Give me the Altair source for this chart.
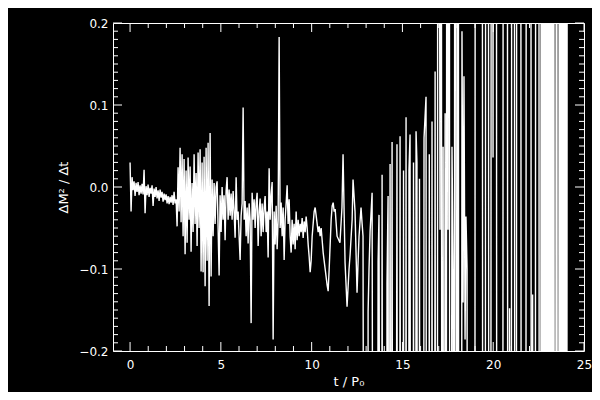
import altair as alt
import pandas as pd

# ---------------- data ----------------
# Early part of the record: evenly sampled, values in units of 1e-3
NOISE_T0 = 0.0
NOISE_DT = 0.0551
NOISE_A = [30, -30, 12, -4, 7, -11, 5, -6, 6, -10, 2, -8, 4, -9, 21, -32, 1, -10, 3, -12,
           -1, -8, 2, -23, -2, -12, 0, -14, -4, -17, -3, -13, -6, -18, -8, -16, -9, -20, -11, -21,
           -12, -19, -10, -22, -6, -20, -15, -48, 24, -30]
NOISE_B = [48, -43, 40, -60, 34, -82, 20, -68, 36, -40, 25, -79, 5, -55, 40, -45, 17, -72, 42, -50,
           46, -103, 30, -104, 37, -121, 48, -90, 54, -145, 66, -109, 9, -60, 5, -45, 0, 7, -50, -108,
           -10, -55, 0, -40, -10, -65, -5, 12, -40, -3]
NOISE_C = [-35, -8, -40, -5, -30, -62, 12, -40, -30, -60, -89, -35, -20, 97, -40, -17, -60, -25, -69, -20,
           -40, -166, -7, -40, -15, -50, -20, -7, -72, -30, -14, -60, -20, -55, -25, -11, -55, -30, -86, 23,
           -40, -10, 6, -186, -30, -70, -23, -76, -40, 183]
NOISE_D = [-50, -19, -60, -25, -89, -40, -20, 2, -45, -15, -60, -80, -40, -70, -45, -76, -30, -65, -40, -60,
           -45, -55, -38, -62, -42, -55, -36, -50, -70, -85, -104, -90, -60, -45, -30, -25, -35, -45, -55, -48,
           -60, -50, -65, -80, -90, -100, -110, -120, -127, -100, -70, -40, -23, -19, -30, -27]

# Later, oscillating part: turning points (t, value x 1e-3); far-off values leave the plotted range
OSC_T = [11.40, 11.56, 11.67, 11.73, 11.84, 11.95, 12.06, 12.12, 12.23, 12.28,
         12.39, 12.50, 12.56, 12.61, 12.72, 12.78, 12.83, 12.91, 13.08, 13.11,
         13.16, 13.22, 13.33, 13.41, 13.60, 13.66, 13.71, 13.80, 13.85, 13.88,
         13.92, 14.13, 14.15, 14.21, 14.26, 14.32, 14.37, 14.43, 14.48, 14.62,
         14.70, 14.74, 14.84, 14.87, 14.91, 15.03, 15.06, 15.09, 15.17, 15.20,
         15.23, 15.34, 15.36, 15.42, 15.46, 15.58, 15.61, 15.64, 15.72, 15.75,
         15.80, 15.84, 15.92, 15.94, 15.97, 16.15, 16.19, 16.30, 16.34, 16.45,
         16.48, 16.50, 16.60, 16.63, 16.66, 16.76, 16.80, 16.83, 16.91, 16.96,
         17.07, 17.13, 17.18, 17.24, 17.29, 17.35, 17.40, 17.46, 17.51, 17.57,
         17.62, 17.73, 17.79, 17.84, 17.90, 18.01, 18.06, 18.12, 18.23, 18.28,
         18.34, 18.39, 18.45, 18.50, 18.56, 18.61, 18.97, 19.03, 19.38, 19.44,
         19.55, 19.60, 19.72, 19.77, 19.85, 19.91, 19.96, 19.99, 20.02, 20.16,
         20.21, 20.51, 20.57, 20.76, 20.82, 20.87, 20.90, 20.93, 20.98, 21.04,
         21.15, 21.20, 21.26, 21.31, 21.50, 21.56, 21.78, 21.84, 22.06, 22.11,
         22.17, 22.22, 22.30, 22.36, 22.50, 22.55,
         22.606, 22.661, 22.716, 22.771, 22.826, 22.882, 22.937, 22.992, 23.047, 23.102,
         23.157, 23.212, 23.267, 23.322, 23.377, 23.432, 23.487, 23.542, 23.597, 23.652,
         23.708, 23.763, 23.818, 23.873, 23.928, 23.983, 24.038, 24.093]
OSC_Y = [-60, -68, -25, 40, -92, -146, -100, -82, -40, 9,
         -30, -129, -90, -60, -25, -45, -60, -1000, -1000, -152,
         -100, -54, -7, -1000, -1000, -91, -34, -1000, -1000, 15,
         -1000, -1000, -117, -11, -1000, 28, -1000, 55, -1000, -1000,
         52, -1000, -1000, 62, -1000, -1000, 20, -1000, -1000, 85,
         -1000, -1000, 20, 64, -1000, -1000, 30, -1000, -1000, 68,
         30, -1000, -1000, 10, -1000, -1000, 60, 110, -1000, -1000,
         40, -1000, -1000, 80, -1000, -1000, 141, -1000, -1500, 1500,
         -52, 1500, -1500, 49, -1500, 90, -1500, 1500, -52, 1500,
         -1500, 49, -100, -1500, 1500, -1500, 1500, -1500, -1500, 190,
         -141, 135, -186, -36, -100, -1500, -1500, 1500, 1500, -1500,
         -1500, 1500, 1500, -1500, -1500, 1500, 1500, 36, 1500, 1500,
         -1500, -1500, 1500, 1500, -1500, -1500, -148, -1500, -1500, 1500,
         1500, -1500, -1500, 1500, 1500, -1500, -1500, 1500, 1500, -1500,
         -131, -1500, -1500, 1500, 1500, -1500,
         -1500, 1500, -1500, 1500, -1500, 1500, -1500, 1500, -1500, 1500,
         -1500, 1500, -1500, 1500, -1500, -1500, 1500, -1500, -1500, 1500,
         -1500, 1500, -1500, 1500, -1500, 1500, -1500, 1500]

X_TICKS = [0, 5, 10, 15, 20, 25]
Y_TICKS = [-0.2, -0.1, 0.0, 0.1, 0.2]
X_DOMAIN = [-0.94, 25]
Y_DOMAIN = [-0.2, 0.2]

# ---------------- build table ----------------
noise = NOISE_A + NOISE_B + NOISE_C + NOISE_D
rows = [{"t": NOISE_T0 + i * NOISE_DT, "y": v / 1000.0} for i, v in enumerate(noise)]
rows += [{"t": t, "y": v / 1000.0} for t, v in zip(OSC_T, OSC_Y)]
df = pd.DataFrame(rows)

x_minor = [k for k in range(0, 25) if k % 5 != 0]
y_minor = [round(-0.2 + 0.01 * k, 2) for k in range(1, 40) if k % 10 != 0]

W, H = 471, 328
FONT = "DejaVu Sans"
xs = alt.Scale(domain=X_DOMAIN, nice=False, zero=False)
ys = alt.Scale(domain=Y_DOMAIN, nice=False, zero=False)

x_axis = alt.Axis(values=X_TICKS, format="d", title="t / P₀",
                  labelPadding=8, labelFlush=False, labelOverlap=False,
                  titleY=34, titleBaseline="alphabetic")
y_axis = alt.Axis(values=Y_TICKS, format=".1f",
                  labelExpr="replace(format(datum.value, '.1f'), '-', '−')",
                  title="ΔM² / Δt", labelPadding=5, labelFlush=False,
                  labelOverlap=False, titleX=-46, titleY=H / 2,
                  titleAngle=270, titleAlign="center",
                  titleBaseline="alphabetic")

line = alt.Chart(df).mark_line(color="white", strokeWidth=1.4, clip=True).encode(
    x=alt.X("t:Q", scale=xs, axis=x_axis, title="t / P₀"),
    y=alt.Y("y:Q", scale=ys, axis=y_axis, title="ΔM² / Δt"),
)

ymaj = pd.DataFrame({"y": Y_TICKS})
ymin = pd.DataFrame({"y": y_minor})
xmaj = pd.DataFrame({"t": X_TICKS})
xmin = pd.DataFrame({"t": x_minor})


def yticks(d, x0, x1):
    return alt.Chart(d).mark_rule(color="white", strokeWidth=1).encode(
        y=alt.Y("y:Q", scale=ys, axis=y_axis, title="ΔM² / Δt"),
        x=alt.value(x0), x2=alt.value(x1))


def xticks(d, y0, y1):
    return alt.Chart(d).mark_rule(color="white", strokeWidth=1).encode(
        x=alt.X("t:Q", scale=xs, axis=x_axis, title="t / P₀"),
        y=alt.value(y0), y2=alt.value(y1))


ticks = [
    yticks(ymaj, 0, 9), yticks(ymin, 0, 5), yticks(ymaj, W - 9, W), yticks(ymin, W - 5, W),
    xticks(xmaj, H - 9, H), xticks(xmin, H - 5, H), xticks(xmaj, 0, 9), xticks(xmin, 0, 5),
]

chart = alt.layer(line, *ticks).properties(
    width=W, height=H,
    autosize=alt.AutoSizeParams(type="none"),
    padding={"left": 105, "top": 15, "right": 8, "bottom": 41},
    background="black",
).configure_view(
    stroke="white", strokeWidth=1
).configure_axis(
    domain=False, ticks=False, grid=False,
    labelColor="white", labelFont=FONT, labelFontSize=12,
    titleColor="white", titleFont=FONT, titleFontSize=13, titleFontWeight="normal",
)

chart.save("out.html", embed_options={"renderer": "svg", "actions": False})
